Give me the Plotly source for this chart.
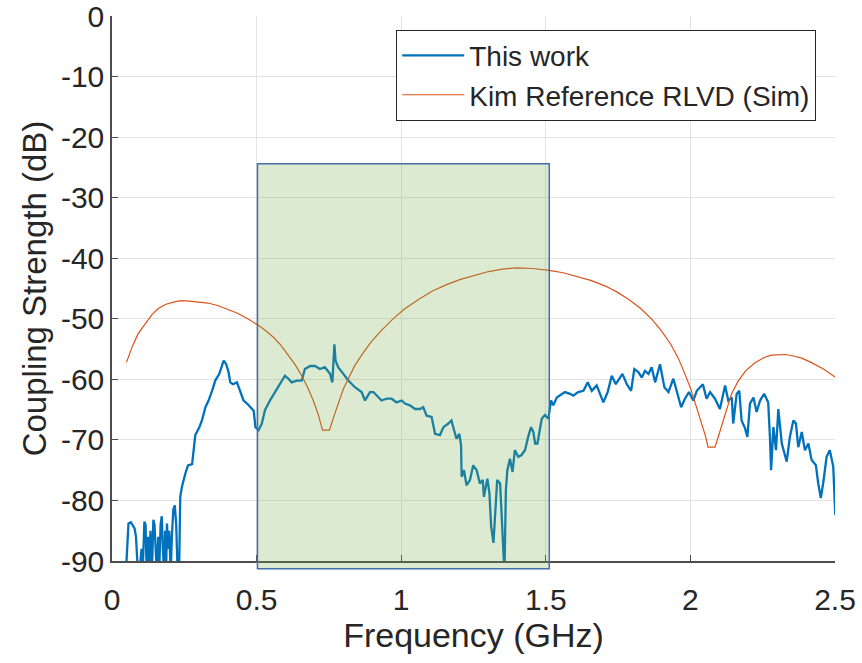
import plotly.graph_objects as go

# ---------------- data ----------------
freq_work = [0.048, 0.053, 0.057, 0.065, 0.072, 0.078, 0.083, 0.088, 0.095, 0.102,
             0.106, 0.112, 0.116, 0.120, 0.125, 0.129, 0.133, 0.138, 0.143, 0.147,
             0.151, 0.155, 0.160, 0.163, 0.168, 0.172, 0.176, 0.180, 0.184, 0.187,
             0.190, 0.194, 0.198, 0.203, 0.207, 0.212, 0.217, 0.222, 0.227, 0.232,
             0.236, 0.242, 0.254, 0.263, 0.277, 0.282, 0.288, 0.302, 0.311, 0.323,
             0.334, 0.346, 0.357, 0.371, 0.380, 0.386, 0.395, 0.403, 0.409, 0.418,
             0.432, 0.444, 0.455, 0.467, 0.478, 0.490, 0.496, 0.507, 0.518, 0.529,
             0.546, 0.564, 0.581, 0.598, 0.610, 0.621, 0.639, 0.656, 0.667, 0.685,
             0.702, 0.719, 0.736, 0.754, 0.762, 0.769, 0.773, 0.782, 0.800, 0.817,
             0.840, 0.863, 0.875, 0.892, 0.904, 0.921, 0.932, 0.950, 0.967, 0.984,
             1.002, 1.013, 1.030, 1.048, 1.065, 1.076, 1.088, 1.105, 1.117, 1.134,
             1.146, 1.163, 1.174, 1.180, 1.191, 1.201, 1.207, 1.209, 1.217, 1.226,
             1.238, 1.249, 1.261, 1.272, 1.282, 1.286, 1.298, 1.305, 1.311, 1.319,
             1.326, 1.332, 1.342, 1.351, 1.357, 1.362, 1.367, 1.376, 1.385, 1.393,
             1.405, 1.416, 1.428, 1.439, 1.449, 1.457, 1.463, 1.471, 1.478, 1.486,
             1.497, 1.509, 1.518, 1.526, 1.538, 1.549, 1.566, 1.584, 1.595, 1.612,
             1.630, 1.645, 1.659, 1.676, 1.687, 1.699, 1.714, 1.728, 1.742, 1.753,
             1.765, 1.780, 1.795, 1.806, 1.820, 1.832, 1.843, 1.855, 1.866, 1.878,
             1.895, 1.910, 1.924, 1.941, 1.953, 1.968, 1.981, 1.995, 2.010, 2.022,
             2.043, 2.056, 2.068, 2.085, 2.102, 2.120, 2.131, 2.143, 2.148, 2.160,
             2.169, 2.177, 2.189, 2.197, 2.206, 2.218, 2.229, 2.241, 2.255, 2.269,
             2.275, 2.279, 2.287, 2.296, 2.304, 2.316, 2.333, 2.344, 2.356, 2.365,
             2.373, 2.385, 2.396, 2.408, 2.419, 2.434, 2.442, 2.451, 2.459, 2.471,
             2.482, 2.494, 2.501]
db_work = [-92.0, -86.0, -83.8, -83.6, -84.2, -84.6, -86.0, -90.5, -92.0, -88.0,
           -92.0, -83.5, -84.0, -92.0, -86.0, -90.0, -85.0, -92.0, -83.2, -84.0,
           -88.0, -92.0, -86.0, -92.0, -84.0, -82.6, -88.0, -92.0, -85.0, -92.0,
           -83.8, -88.0, -85.0, -92.0, -86.0, -81.5, -80.8, -84.0, -92.0, -92.0,
           -79.4, -77.7, -75.5, -74.2, -74.0, -71.7, -69.2, -67.9, -66.8, -64.6,
           -63.5, -61.9, -60.2, -59.1, -57.5, -56.9, -57.5, -58.8, -60.5, -60.8,
           -60.5, -61.9, -63.5, -64.0, -64.6, -65.2, -67.9, -68.4, -67.3, -65.1,
           -63.5, -62.1, -60.8, -59.4, -59.9, -60.5, -60.2, -60.2, -58.3, -57.8,
           -57.8, -58.3, -58.0, -59.1, -60.5, -54.2, -56.9, -58.0, -59.1, -60.2,
           -61.3, -62.1, -63.5, -62.1, -62.1, -63.0, -63.5, -63.2, -63.2, -63.8,
           -63.5, -64.0, -64.3, -64.9, -64.9, -64.6, -66.0, -66.2, -69.0, -69.2,
           -67.9, -67.3, -66.8, -67.9, -69.8, -69.0, -70.9, -76.1, -75.0, -77.5,
           -76.6, -74.2, -75.0, -77.2, -76.6, -79.4, -76.4, -78.8, -84.3, -87.0,
           -81.0, -76.6, -77.2, -85.4, -92.0, -78.3, -75.0, -73.1, -75.3, -71.7,
           -72.8, -72.5, -71.7, -69.5, -67.9, -68.7, -70.6, -70.6, -68.4, -66.5,
           -65.9, -66.5, -63.5, -64.3, -63.0, -62.7, -62.1, -62.4, -62.7, -62.1,
           -61.9, -60.5, -61.9, -61.0, -62.4, -63.8, -62.1, -59.4, -60.8, -59.9,
           -59.1, -60.8, -61.9, -58.3, -58.8, -59.7, -58.6, -59.1, -58.0, -60.5,
           -57.5, -61.3, -62.1, -59.9, -61.9, -64.6, -63.2, -62.1, -63.5, -61.9,
           -60.8, -63.2, -62.1, -63.2, -64.9, -61.0, -63.5, -63.0, -67.3, -62.4,
           -61.9, -66.8, -68.1, -69.5, -64.0, -63.0, -65.4, -63.5, -62.4, -63.8,
           -69.5, -75.0, -67.9, -71.7, -64.9, -70.6, -73.6, -69.5, -66.8, -67.3,
           -71.2, -68.7, -71.7, -70.6, -73.3, -74.2, -77.2, -79.6, -77.2, -72.8,
           -71.7, -74.4, -82.4]

freq_kim = [0.050, 0.070, 0.090, 0.115, 0.138, 0.160, 0.187, 0.215, 0.240, 0.268,
            0.300, 0.332, 0.365, 0.397, 0.430, 0.462, 0.490, 0.510, 0.535, 0.559,
            0.583, 0.607, 0.632, 0.656, 0.677, 0.696, 0.713, 0.728, 0.752, 0.768,
            0.785, 0.800, 0.817, 0.840, 0.866, 0.895, 0.930, 0.970, 1.011, 1.060,
            1.108, 1.155, 1.205, 1.255, 1.302, 1.350, 1.399, 1.455, 1.512, 1.560,
            1.609, 1.658, 1.706, 1.747, 1.787, 1.828, 1.867, 1.900, 1.932, 1.958,
            1.981, 2.002, 2.021, 2.038, 2.053, 2.061, 2.085, 2.097, 2.110, 2.125,
            2.142, 2.165, 2.191, 2.222, 2.255, 2.280, 2.304, 2.328, 2.352, 2.385,
            2.417, 2.460, 2.500]
db_kim = [-57.2, -54.6, -52.5, -50.8, -49.3, -48.3, -47.6, -47.2, -47.0, -47.1,
          -47.2, -47.4, -47.8, -48.4, -49.0, -49.8, -50.6, -51.2, -52.1, -53.1,
          -54.3, -55.8, -57.5, -59.4, -61.4, -63.5, -65.8, -68.4, -68.4, -66.0,
          -63.5, -61.6, -59.9, -57.7, -55.8, -53.9, -52.0, -50.1, -48.4, -46.8,
          -45.4, -44.4, -43.5, -42.8, -42.2, -41.8, -41.6, -41.7, -42.0, -42.4,
          -43.0, -43.7, -44.6, -45.6, -46.8, -48.3, -50.1, -52.0, -54.2, -56.5,
          -59.1, -61.7, -64.6, -67.0, -69.5, -71.2, -71.2, -69.4, -67.3, -64.8,
          -62.4, -60.3, -58.6, -57.3, -56.4, -56.0, -55.9, -55.9, -56.1, -56.5,
          -57.2, -58.3, -59.6]

x_tick_vals = [0, 0.5, 1, 1.5, 2, 2.5]
x_tick_text = ["0", "0.5", "1", "1.5", "2", "2.5"]
y_tick_vals = [0, -10, -20, -30, -40, -50, -60, -70, -80, -90]
y_tick_text = ["0", "-10", "-20", "-30", "-40", "-50", "-60", "-70", "-80", "-90"]

band_freq = [0.503, 1.512]      # highlighted band (GHz)
band_db = [-91.3, -24.4]        # highlighted band (dB)

x_range = [0, 2.5]
y_range = [-90, 0]

# ---------------- figure ----------------
FONT = "Liberation Sans, Arial, Helvetica, sans-serif"
TXT = "#262626"

fig = go.Figure()
fig.add_trace(go.Scatter(x=freq_work, y=db_work, mode="lines", name="This work",
                         line=dict(color="#0072BD", width=2.3)))
fig.add_trace(go.Scatter(x=freq_kim, y=db_kim, mode="lines",
                         name="Kim Reference RLVD (Sim)",
                         line=dict(color="#D95319", width=1.2)))

def to_paper(v):
    return (v - y_range[0]) / (y_range[1] - y_range[0])

fig.add_shape(type="rect", xref="x", yref="paper",
              x0=band_freq[0], x1=band_freq[1],
              y0=to_paper(band_db[0]), y1=to_paper(band_db[1]),
              fillcolor="rgba(112,173,71,0.25)",
              line=dict(color="rgb(68,110,168)", width=1.5), layer="above")

axis_common = dict(showline=True, linecolor="#4d4d4d", linewidth=1.5,
                   ticks="inside", ticklen=6, tickcolor="#4d4d4d", tickwidth=1,
                   showgrid=True, gridcolor="#e3e3e3", gridwidth=1,
                   zeroline=False, mirror=False, ticklabeloverflow="allow",
                   tickfont=dict(family=FONT, size=30, color=TXT))

fig.update_xaxes(range=x_range, tickvals=x_tick_vals, ticktext=x_tick_text,
                 ticklabelstandoff=11,
                 title=dict(text="Frequency (GHz)", font=dict(family=FONT, size=34, color=TXT),
                            standoff=8),
                 **axis_common)
fig.update_yaxes(range=y_range, tickvals=y_tick_vals, ticktext=y_tick_text,
                 title=dict(text="Coupling Strength (dB)", font=dict(family=FONT, size=33, color=TXT),
                            standoff=4),
                 **axis_common)

fig.update_layout(
    width=862, height=663,
    margin=dict(l=112, r=27, t=16, b=102, autoexpand=False),
    paper_bgcolor="white", plot_bgcolor="white",
    showlegend=True,
    legend=dict(x=0.974, xanchor="right", y=0.975, yanchor="top",
                bgcolor="white", bordercolor="#262626", borderwidth=1,
                font=dict(family=FONT, size=28, color=TXT),
                tracegroupgap=0, itemwidth=62),
)

fig.write_html("out.html")
